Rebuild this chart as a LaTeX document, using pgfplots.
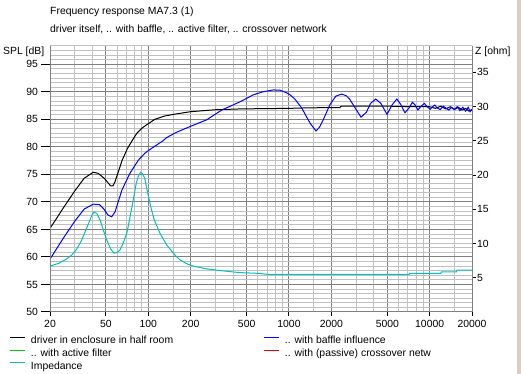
\documentclass[border=0pt]{standalone}
\usepackage{pgfplots}
\pgfplotsset{compat=1.18}
\usepackage{fontspec}
\setmainfont{Liberation Sans}
\definecolor{gridlight}{RGB}{192,192,192}
\definecolor{griddark}{RGB}{128,128,128}
\definecolor{zcyan}{RGB}{0,192,192}
\definecolor{lgreen}{RGB}{0,200,0}
\definecolor{lblue}{RGB}{0,0,255}
\definecolor{lred}{RGB}{230,0,0}
\definecolor{frame}{RGB}{212,208,200}

\pgfplotstableread{
f db
20 65.2
22 66.8
25 69.0
30 72.0
35 74.3
40.6 75.4
44 75.2
49 74.2
54 72.9
56 72.9
58 73.7
65 77.5
71 79.7
77 81.2
83 82.5
90 83.4
97 84.0
111 85.0
130 85.6
150 85.9
200 86.4
300 86.75
450 86.9
650 86.95
1000 87.0
1400 87.1
2300 87.15
2350 87.4
5000 87.4
8000 87.3
10000 87.3
11000 87.0
12000 87.4
13000 86.9
14000 87.3
15000 86.8
16000 87.2
17000 86.7
18000 87.0
19000 86.5
20000 86.8
}\driver

\pgfplotstableread{
f db
20 59.6
25 63.5
30 66.5
35 68.7
40.6 69.6
45 69.5
48 68.8
51.7 67.6
54.9 67.3
58 68.2
65 72.2
74 75.2
85 77.6
95 78.9
105 79.7
127 81.1
135 81.7
160 82.7
198 83.7
259 84.9
333 86.7
449 88.2
557 89.45
650 90.0
772 90.35
862 90.3
950 89.9
1013 89.5
1100 88.7
1237 87.0
1330 85.5
1414 84.3
1555 82.9
1650 83.6
1750 84.9
1957 87.7
2150 89.2
2359 89.6
2550 89.3
2696 88.7
3000 86.8
3252 85.4
3550 86.3
3800 87.9
4140 88.7
4500 87.9
4977 85.9
5400 87.6
5842 88.7
6200 87.8
6673 86.2
7100 87.0
7536 88.1
7900 87.6
8246 86.7
8700 87.4
9172 87.9
9600 87.3
10095 86.85
10500 87.3
10860 87.6
11400 87.0
11900 86.8
12500 87.4
13100 87.0
13700 86.7
14300 87.2
15000 86.8
15700 87.3
16400 86.6
17200 87.2
18000 86.5
18800 87.2
19400 86.4
20000 86.8
}\baffle

\pgfplotstableread{
f z
20 6.7
23 7.1
26 7.7
28.5 8.3
31 9.2
33.6 10.5
36 12.0
38.5 13.45
40 14.3
41.3 14.6
43 14.4
45.4 13.45
48 11.9
50.7 10.5
54 9.2
57 8.6
60 8.7
62.9 9.06
66 10.0
70.3 11.5
74 13.8
78.2 16.4
82 18.8
84.8 19.8
88 20.4
91 20.2
94.4 19.5
98 17.8
104 15.4
110 13.5
121 11.5
135 9.8
155 8.3
168 7.6
190 7.0
209 6.7
259 6.3
341 6.0
449 5.75
600 5.65
700 5.5
7160 5.5
7200 5.65
12000 5.65
12100 5.85
15500 5.85
15600 6.1
20000 6.1
}\imped

\begin{document}
\fontsize{10.4pt}{12pt}\selectfont
\begin{tikzpicture}[x=1pt,y=1pt]
\useasboundingbox (0pt,0pt) rectangle (521pt,374pt);
\fill[white] (0pt,0pt) rectangle (521pt,374pt);
\fill[frame] (517pt,0pt) rectangle (521pt,374pt);

% main SPL axis: grid, x ticks, curves, legend
\begin{axis}[
  at={(50pt,62pt)}, anchor=south west, scale only axis,
  width=422pt, height=266pt,
  xmode=log, xmin=20, xmax=20000, ymin=50, ymax=98.3333,
  axis x line*=bottom, axis y line*=left,
  axis line style={griddark, line width=1pt, -},
  xtick={20,50,100,200,500,1000,2000,5000,10000,20000},
  xticklabels={20,50,100,200,500,1000,2000,5000,10000,20000},
  minor xtick={30,40,60,70,80,90,150,300,400,600,700,800,900,1500,3000,4000,6000,7000,8000,9000,15000},
  ytick={50,55,...,95},
  yticklabels={},
  minor ytick={50,50.833333,...,98.4},
  grid=both,
  major grid style={griddark, line width=1pt},
  minor grid style={gridlight, line width=1pt},
  tick align=outside,
  major tick length=4pt, minor tick length=0pt,
  xtick style={black, line width=1pt},
  ytick style={draw=none},
  xticklabel style={inner sep=0pt, yshift=-4pt},
  clip=true,
  legend columns=2,
  legend cell align=left,
  legend style={at={(axis description cs:-0.0948,-0.0902)}, anchor=north west,
    draw=none, fill=none, inner sep=0pt, outer sep=0pt, row sep=2.7pt,
    nodes={inner sep=0pt, outer sep=0pt, text height=8pt, text depth=2pt},
    /tikz/every odd column/.style={column sep=5pt}},
  legend image code/.code={\draw[#1, line width=1pt] (0pt,3.5pt) -- (15pt,3.5pt);},
]
\addplot[color=black, line width=1pt] table[x=f, y=db] {\driver};
\addlegendentry{\makebox[233pt][l]{driver in enclosure in half room}}
\addplot[color=lblue, line width=1pt] table[x=f, y=db] {\baffle};
\addlegendentry{.. with baffle influence}
\addlegendimage{color=lgreen}
\addlegendentry{\makebox[233pt][l]{.. with active filter}}
\addlegendimage{color=lred}
\addlegendentry{.. with (passive) crossover netw}
\addlegendimage{color=zcyan}
\addlegendentry{\makebox[233pt][l]{Impedance}}
\end{axis}

% left SPL ticks and labels (longer ticks)
\begin{axis}[
  at={(50pt,62pt)}, anchor=south west, scale only axis,
  width=422pt, height=266pt,
  xmode=log, xmin=20, xmax=20000, ymin=50, ymax=98.3333,
  axis x line=none, axis y line*=left,
  axis line style={griddark, line width=1pt, -},
  ytick={50,55,...,95},
  tick align=outside,
  major tick length=9pt, minor tick length=0pt,
  ytick style={black, line width=1pt},
  /pgf/number format/assume math mode=true,
  yticklabel style={inner sep=0pt, xshift=-3pt},
]
\end{axis}

% impedance axis
\begin{axis}[
  at={(50pt,62pt)}, anchor=south west, scale only axis,
  width=422pt, height=266pt,
  xmode=log, xmin=20, xmax=20000, ymin=0, ymax=38.86,
  axis x line=none, axis y line*=right,
  axis line style={griddark, line width=1pt, -},
  ytick={5,10,...,35},
  tick align=outside,
  major tick length=4pt, minor tick length=0pt,
  tick style={black, line width=1pt},
  /pgf/number format/assume math mode=true,
  yticklabel style={inner sep=0pt, xshift=1pt},
]
\addplot[color=zcyan, line width=1pt] table[x=f, y=z] {\imped};
\end{axis}

\node[anchor=base west, inner sep=0pt] at (50pt,359.7pt) {Frequency response MA7.3 (1)};
\node[anchor=base west, inner sep=0pt] at (50pt,341pt) {driver itself, .. with baffle, .. active filter, .. crossover network};
\node[anchor=base west, inner sep=0pt] at (3pt,319.7pt) {SPL [dB]};
\node[anchor=base west, inner sep=0pt] at (475pt,319.7pt) {Z [ohm]};
\end{tikzpicture}
\end{document}
